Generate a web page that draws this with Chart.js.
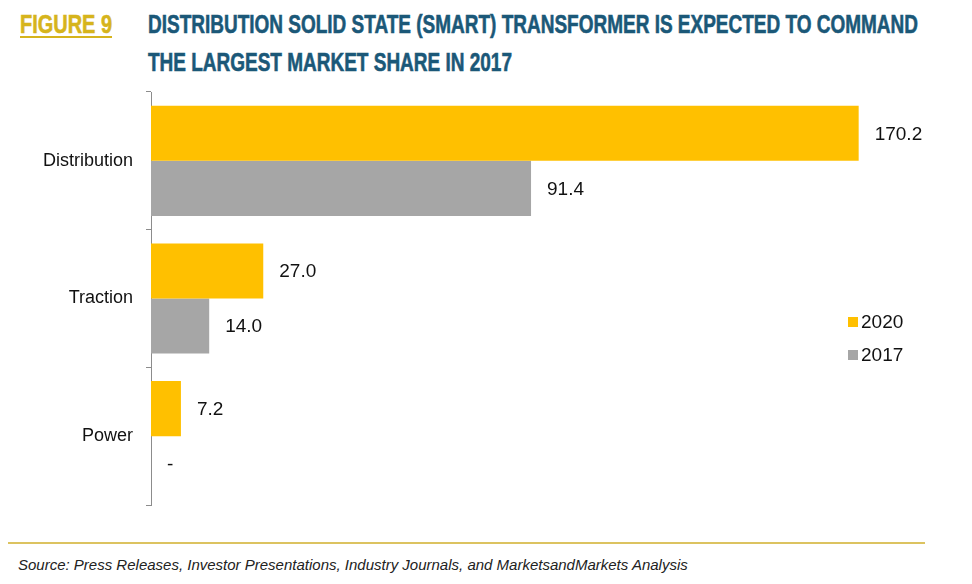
<!DOCTYPE html>
<html>
<head>
<meta charset="utf-8">
<script src="https://cdn.jsdelivr.net/npm/chart.js@4"></script>
<style>
  body { margin: 0; background: #fff; width: 972px; height: 584px; position: relative; overflow: hidden; font-family: "Liberation Sans", Arial, sans-serif; }
  .head { position: absolute; font: bold 26px/38px "Liberation Sans", Arial, sans-serif; white-space: nowrap; transform-origin: 0 0; -webkit-text-stroke: 0.6px currentColor; }
  .fig { left: 20px; top: 5px; color: #d6b41c; text-decoration: underline; text-decoration-thickness: 2px; text-underline-offset: 3px; }
  .title { left: 148px; top: 5px; color: #1b5878; }
  #wrap { position: absolute; left: 0; top: 85px; width: 972px; height: 440px; }
  .legend { position: absolute; left: 848px; top: 305px; font-size: 19px; color: #111; }
  .legend div { display: flex; align-items: center; height: 33px; }
  .legend span { display: inline-block; width: 10px; height: 10px; margin-right: 3px; }
  .rule { position: absolute; left: 8px; top: 542px; width: 917px; height: 2px; background: #dcc360; }
  .source { position: absolute; left: 18px; top: 556px; font: italic 15px "Liberation Sans", Arial, sans-serif; color: #222; }
</style>
</head>
<body>
<div class="head fig" data-w="92">FIGURE 9</div>
<div class="head title" data-w="770">DISTRIBUTION SOLID STATE (SMART) TRANSFORMER IS EXPECTED TO COMMAND<br>THE LARGEST MARKET SHARE IN 2017</div>
<div id="wrap"><canvas id="chart"></canvas></div>
<div class="legend">
  <div><span style="background:#ffc000"></span>2020</div>
  <div><span style="background:#a6a6a6"></span>2017</div>
</div>
<div class="rule"></div>
<div class="source">Source: Press Releases, Investor Presentations, Industry Journals, and MarketsandMarkets Analysis</div>
<script>
const categories = ['Distribution', 'Traction', 'Power'];
const values2020 = [170.2, 27.0, 7.2];
const values2017 = [91.4, 14.0, 0];

// squeeze the headings to the narrow width of the original
document.querySelectorAll('.head').forEach(el => {
  const w = el.getBoundingClientRect().width;
  el.style.transform = 'scaleX(' + (el.dataset.w / w) + ')';
});

const valueLabels = {
  id: 'valueLabels',
  afterDatasetsDraw(chart) {
    const ctx = chart.ctx;
    ctx.save();
    ctx.font = '19px "Liberation Sans", Arial, sans-serif';
    ctx.fillStyle = '#111';
    ctx.textBaseline = 'middle';
    chart.data.datasets.forEach((ds, i) => {
      chart.getDatasetMeta(i).data.forEach((bar, j) => {
        const v = ds.data[j];
        const txt = v === 0 ? '-' : v.toFixed(1);
        ctx.fillText(txt, bar.x + 16, bar.y + 1);
      });
    });
    ctx.restore();
  }
};

new Chart(document.getElementById('chart'), {
  type: 'bar',
  data: {
    labels: categories,
    datasets: [
      { label: '2020', data: values2020, backgroundColor: '#ffc000' },
      { label: '2017', data: values2017, backgroundColor: '#a6a6a6' }
    ]
  },
  options: {
    indexAxis: 'y',
    responsive: true,
    maintainAspectRatio: false,
    animation: false,
    layout: { padding: { top: 7, bottom: 20, right: 31, left: 0 } },
    datasets: { bar: { categoryPercentage: 0.8, barPercentage: 1.0 } },
    plugins: { legend: { display: false }, tooltip: { enabled: false } },
    scales: {
      x: { display: false, min: 0, max: 190 },
      y: {
        afterFit(scale) { scale.width = 151; scale.paddingTop = 0; scale.paddingBottom = 0; },
        border: { display: true, color: '#8c8c8c', width: 1 },
        grid: { display: true, drawOnChartArea: false, tickLength: 5, color: '#8c8c8c' },
        ticks: { padding: 13, color: '#111', font: { size: 18, family: '"Liberation Sans", Arial, sans-serif' } }
      }
    }
  },
  plugins: [valueLabels]
});
</script>
</body>
</html>
